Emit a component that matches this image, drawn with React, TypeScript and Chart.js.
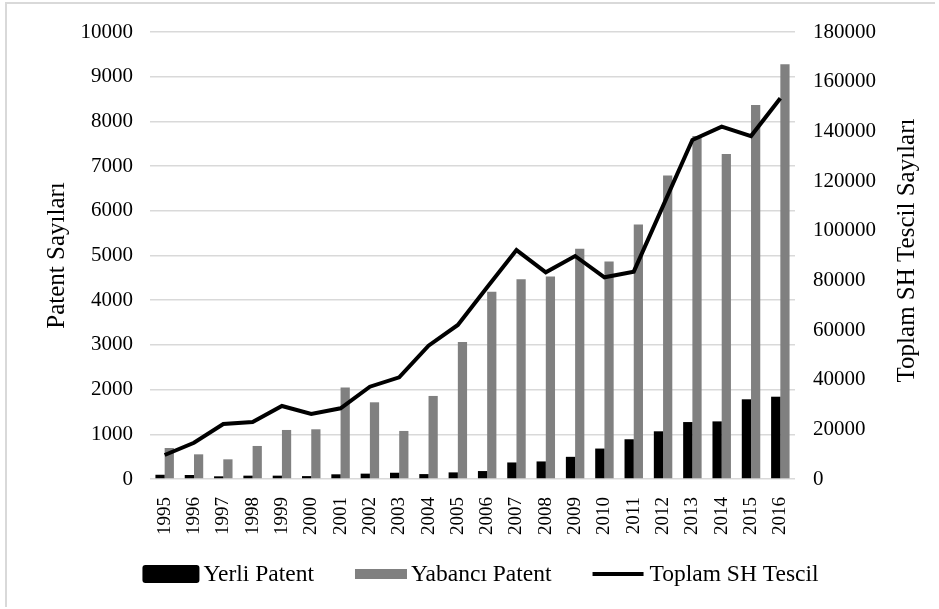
import React, { useEffect, useRef } from "react";
import { Chart, registerables } from "chart.js";

Chart.register(...registerables);

const FONT = "'Liberation Serif', 'Times New Roman', serif";

const years = [
  "1995", "1996", "1997", "1998", "1999", "2000", "2001", "2002", "2003", "2004", "2005",
  "2006", "2007", "2008", "2009", "2010", "2011", "2012", "2013", "2014", "2015", "2016",
];
const yerliPatent = [95, 90, 60, 75, 75, 65, 105, 120, 140, 110, 148, 178, 370, 393, 496, 681, 889, 1067, 1274, 1289, 1783, 1841];
const yabanciPatent = [694, 552, 440, 739, 1097, 1112, 2045, 1716, 1075, 1858, 3067, 4187, 4470, 4530, 5149, 4866, 5694, 6789, 7675, 7270, 8365, 9276];
const toplamSHTescil = [9660, 14600, 22150, 22950, 29400, 26170, 28460, 37170, 40950, 53690, 62010, 77190, 92200, 83240, 89800, 81220, 83490, 110000, 136500, 141870, 138100, 153300];

const seriesLabels = ["Yerli Patent", "Yabancı Patent", "Toplam SH Tescil"];
const leftAxisTitle = "Patent Sayıları";
const rightAxisTitle = "Toplam SH Tescil Sayıları";
const leftAxisRange = [0, 10000, 1000];
const rightAxisRange = [0, 180000, 20000];

const decorPlugin = {
  id: "decor",
  beforeDraw(chart: any) {
    const ctx = chart.ctx;
    ctx.save();
    ctx.strokeStyle = "#d9d9d9";
    ctx.lineWidth = 2;
    ctx.beginPath();
    ctx.moveTo(6, 607);
    ctx.lineTo(6, 3);
    ctx.lineTo(935, 3);
    ctx.stroke();
    ctx.restore();
  },
  afterDraw(chart: any) {
    const { ctx, chartArea } = chart;
    const cy = (chartArea.top + chartArea.bottom) / 2;
    // axis titles
    ctx.save();
    ctx.fillStyle = "#000";
    ctx.font = `25px ${FONT}`;
    ctx.textAlign = "center";
    ctx.textBaseline = "middle";
    ctx.translate(57, cy);
    ctx.rotate(-Math.PI / 2);
    ctx.fillText(leftAxisTitle, 0, 0);
    ctx.restore();

    ctx.save();
    ctx.fillStyle = "#000";
    ctx.font = `25px ${FONT}`;
    ctx.textAlign = "center";
    ctx.textBaseline = "middle";
    ctx.translate(907, cy - 5);
    ctx.rotate(-Math.PI / 2);
    ctx.fillText(rightAxisTitle, 0, 0);
    ctx.restore();

    // legend
    ctx.save();
    ctx.font = `23.5px ${FONT}`;
    ctx.textBaseline = "middle";
    ctx.textAlign = "left";
    const ly = 574;
    const gapItem = 41;
    const items = chart.data.datasets.map((d: any) => {
      const kind = d.type === "line" ? "line" : d.legendStrong ? "strong" : "bar";
      return {
        text: d.label,
        kind,
        color: d.type === "line" ? d.borderColor : d.backgroundColor,
        sw: kind === "strong" ? 57 : kind === "bar" ? 52 : 51,
        gap: kind === "line" ? 6 : 4,
      };
    });
    const widths = items.map((it: any) => it.sw + it.gap + ctx.measureText(it.text).width);
    const total = widths.reduce((a: number, b: number) => a + b, 0) + gapItem * (items.length - 1);
    let x = 480.5 - total / 2;
    items.forEach((it: any, i: number) => {
      ctx.fillStyle = it.color;
      if (it.kind === "line") {
        ctx.fillRect(x, ly - 2, it.sw, 4);
      } else if (it.kind === "strong") {
        ctx.beginPath();
        (ctx as any).roundRect(x, ly - 9, it.sw, 18, 3);
        ctx.fill();
      } else {
        ctx.fillRect(x, ly - 5, it.sw, 10);
      }
      ctx.fillStyle = "#000";
      ctx.fillText(it.text, x + it.sw + it.gap, ly + 1);
      x += widths[i] + gapItem;
    });
    ctx.restore();
  },
};

export default function App() {
  const canvasRef = useRef<HTMLCanvasElement | null>(null);

  useEffect(() => {
    const canvas = canvasRef.current;
    if (!canvas) return;
    const chart = new Chart(canvas, {
      type: "bar",
      data: {
        labels: years,
        datasets: [
          {
            type: "bar",
            label: seriesLabels[0],
            data: yerliPatent,
            yAxisID: "y",
            backgroundColor: "#000000",
            borderWidth: 0,
            order: 1,
            legendStrong: true,
          } as any,
          {
            type: "bar",
            label: seriesLabels[1],
            data: yabanciPatent,
            yAxisID: "y",
            backgroundColor: "#808080",
            borderWidth: 0,
            order: 1,
          } as any,
          {
            type: "line",
            label: seriesLabels[2],
            data: toplamSHTescil,
            yAxisID: "y1",
            borderColor: "#000000",
            backgroundColor: "#000000",
            borderWidth: 4,
            pointRadius: 0,
            fill: false,
            tension: 0,
            order: 0,
          } as any,
        ],
      },
      options: {
        responsive: false,
        animation: false,
        devicePixelRatio: 1,
        layout: { padding: { top: 32, left: 0, right: 0, bottom: 0 } },
        datasets: {
          bar: { categoryPercentage: 0.63, barPercentage: 1 },
        },
        plugins: {
          legend: { display: false },
          tooltip: { enabled: false },
        },
        scales: {
          x: {
            grid: { display: false },
            border: { display: false },
            ticks: {
              autoSkip: false,
              minRotation: 90,
              maxRotation: 90,
              padding: 10,
              color: "#000",
              font: { family: FONT, size: 19 },
            },
            afterFit: (s: any) => {
              s.height = 130;
            },
          },
          y: {
            position: "left",
            min: leftAxisRange[0],
            max: leftAxisRange[1],
            ticks: {
              stepSize: leftAxisRange[2],
              padding: 17,
              color: "#000",
              font: { family: FONT, size: 21 },
              callback: (v: any) => String(v),
            },
            grid: { color: "#d9d9d9", lineWidth: 1.5, drawTicks: false },
            border: { display: false },
            afterFit: (s: any) => {
              s.width = 150;
            },
          },
          y1: {
            position: "right",
            min: rightAxisRange[0],
            max: rightAxisRange[1],
            ticks: {
              stepSize: rightAxisRange[2],
              padding: 18,
              color: "#000",
              font: { family: FONT, size: 21 },
              callback: (v: any) => String(v),
            },
            grid: { display: false, drawTicks: false },
            border: { display: false },
            afterFit: (s: any) => {
              s.width = 939 - 795;
            },
          },
        },
      } as any,
      plugins: [decorPlugin],
    });
    return () => chart.destroy();
  }, []);

  return (
    <div style={{ position: "absolute", left: 0, top: 0, width: 939, height: 609, background: "#fff" }}>
      <canvas ref={canvasRef} width={939} height={609} style={{ width: 939, height: 609, display: "block" }} />
    </div>
  );
}
